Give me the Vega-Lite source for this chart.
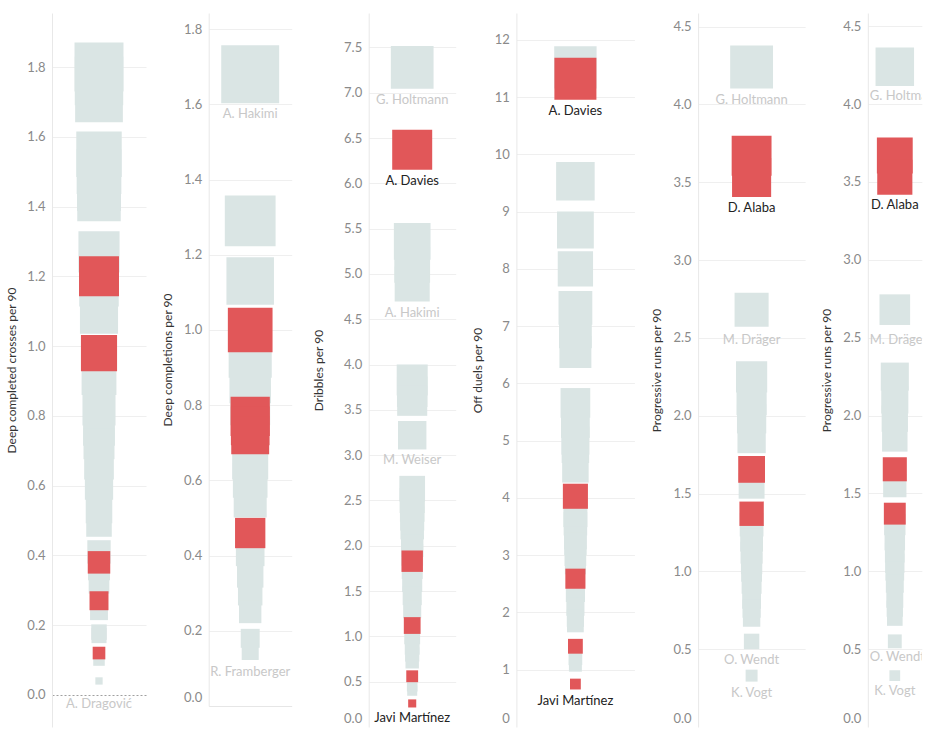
{
  "$schema": "https://vega.github.io/schema/vega-lite/v6.json",
  "padding": {"left": 5, "top": 13, "right": 5, "bottom": 5},
  "background": "white",
  "config": {
    "view": {"stroke": null},
    "font": "Lato",
    "axis": {
      "ticks": false,
      "domainColor": "#e8e8e8",
      "gridColor": "#efefef",
      "labelColor": "#8a8a8a",
      "labelFont": "Lato",
      "labelFontSize": 13,
      "labelPadding": 7,
      "titleFont": "Lato",
      "titleFontSize": 12,
      "titleFontWeight": "normal",
      "titleColor": "#333333",
      "minExtent": 24,
      "maxExtent": 24
    }
  },
  "datasets": {
    "crosses": [
      {"player": "A. Dragović", "value": 0, "team": "Other"},
      {"value": 1.80, "team": "Other"}, {"value": 1.76, "team": "Other"}, {"value": 1.71, "team": "Other"},
      {"value": 1.55, "team": "Other"}, {"value": 1.50, "team": "Other"}, {"value": 1.45, "team": "Other"},
      {"value": 1.42, "team": "Other"}, {"value": 1.27, "team": "Other"}, {"value": 1.17, "team": "Other"},
      {"value": 1.09, "team": "Other"}, {"value": 0.91, "team": "Other"}, {"value": 0.82, "team": "Other"},
      {"value": 0.76, "team": "Other"}, {"value": 0.72, "team": "Other"}, {"value": 0.66, "team": "Other"},
      {"value": 0.60, "team": "Other"}, {"value": 0.53, "team": "Other"}, {"value": 0.49, "team": "Other"},
      {"value": 0.41, "team": "Other"}, {"value": 0.36, "team": "Other"}, {"value": 0.32, "team": "Other"},
      {"value": 0.24, "team": "Other"}, {"value": 0.18, "team": "Other"}, {"value": 0.17, "team": "Other"},
      {"value": 0.10, "team": "Other"}, {"value": 0.04, "team": "Other"},
      {"value": 1.20, "team": "Bayern"}, {"value": 0.98, "team": "Bayern"}, {"value": 0.38, "team": "Bayern"},
      {"value": 0.27, "team": "Bayern"}, {"value": 0.12, "team": "Bayern"}
    ],
    "completions": [
      {"player": "A. Hakimi", "value": 1.68, "team": "Other"},
      {"value": 1.29, "team": "Other"}, {"value": 1.13, "team": "Other"}, {"value": 0.93, "team": "Other"},
      {"value": 0.86, "team": "Other"}, {"value": 0.80, "team": "Other"}, {"value": 0.65, "team": "Other"},
      {"value": 0.60, "team": "Other"}, {"value": 0.545, "team": "Other"}, {"value": 0.41, "team": "Other"},
      {"value": 0.35, "team": "Other"}, {"value": 0.30, "team": "Other"}, {"value": 0.25, "team": "Other"},
      {"value": 0.18, "team": "Other"},
      {"player": "R. Framberger", "value": 0.145, "team": "Other"},
      {"value": 1.00, "team": "Bayern"}, {"value": 0.77, "team": "Bayern"}, {"value": 0.745, "team": "Bayern"},
      {"value": 0.72, "team": "Bayern"}, {"value": 0.46, "team": "Bayern"}
    ],
    "dribbles": [
      {"player": "G. Holtmann", "value": 7.28, "team": "Other"},
      {"value": 5.36, "team": "Other"}, {"value": 5.10, "team": "Other"},
      {"player": "A. Hakimi", "value": 4.89, "team": "Other"},
      {"value": 3.83, "team": "Other"}, {"value": 3.70, "team": "Other"}, {"value": 3.60, "team": "Other"},
      {"player": "M. Weiser", "value": 3.22, "team": "Other"},
      {"value": 2.63, "team": "Other"}, {"value": 2.50, "team": "Other"}, {"value": 2.40, "team": "Other"},
      {"value": 2.30, "team": "Other"}, {"value": 2.20, "team": "Other"}, {"value": 2.00, "team": "Other"},
      {"value": 1.90, "team": "Other"}, {"value": 1.75, "team": "Other"}, {"value": 1.60, "team": "Other"},
      {"value": 1.45, "team": "Other"}, {"value": 1.30, "team": "Other"}, {"value": 1.00, "team": "Other"},
      {"value": 0.88, "team": "Other"}, {"value": 0.80, "team": "Other"}, {"value": 0.72, "team": "Other"},
      {"value": 0.45, "team": "Other"}, {"value": 0.40, "team": "Other"},
      {"player": "A. Davies", "value": 6.37, "team": "Bayern"},
      {"value": 1.83, "team": "Bayern"}, {"value": 1.12, "team": "Bayern"}, {"value": 0.56, "team": "Bayern"},
      {"player": "Javi Martínez", "value": 0.26, "team": "Bayern"}
    ],
    "duels": [
      {"value": 11.52, "team": "Other"}, {"value": 9.53, "team": "Other"}, {"value": 8.68, "team": "Other"},
      {"value": 8.0, "team": "Other"}, {"value": 7.32, "team": "Other"}, {"value": 6.9, "team": "Other"},
      {"value": 6.55, "team": "Other"}, {"value": 5.66, "team": "Other"}, {"value": 5.3, "team": "Other"},
      {"value": 5.0, "team": "Other"}, {"value": 4.85, "team": "Other"}, {"value": 4.5, "team": "Other"},
      {"value": 3.7, "team": "Other"}, {"value": 3.55, "team": "Other"}, {"value": 3.3, "team": "Other"},
      {"value": 3.2, "team": "Other"}, {"value": 3.0, "team": "Other"}, {"value": 2.85, "team": "Other"},
      {"value": 2.35, "team": "Other"}, {"value": 2.1, "team": "Other"}, {"value": 1.9, "team": "Other"},
      {"value": 1.8, "team": "Other"}, {"value": 1.2, "team": "Other"}, {"value": 1.08, "team": "Other"},
      {"player": "A. Davies", "value": 11.32, "team": "Bayern"},
      {"value": 4.03, "team": "Bayern"}, {"value": 2.59, "team": "Bayern"}, {"value": 1.41, "team": "Bayern"},
      {"player": "Javi Martínez", "value": 0.75, "team": "Bayern"}
    ],
    "runs": [
      {"player": "G. Holtmann", "value": 4.24, "team": "Other"},
      {"player": "M. Dräger", "value": 2.68, "team": "Other"},
      {"value": 2.25, "team": "Other"}, {"value": 2.1, "team": "Other"}, {"value": 1.98, "team": "Other"},
      {"value": 1.85, "team": "Other"}, {"value": 1.55, "team": "Other"}, {"value": 1.3, "team": "Other"},
      {"value": 1.2, "team": "Other"}, {"value": 1.12, "team": "Other"}, {"value": 1.05, "team": "Other"},
      {"value": 1.0, "team": "Other"}, {"value": 0.92, "team": "Other"}, {"value": 0.82, "team": "Other"},
      {"value": 0.76, "team": "Other"}, {"value": 0.7, "team": "Other"},
      {"player": "O. Wendt", "value": 0.55, "team": "Other"},
      {"player": "K. Vogt", "value": 0.33, "team": "Other"},
      {"value": 3.67, "team": "Bayern"},
      {"player": "D. Alaba", "value": 3.53, "team": "Bayern"},
      {"value": 1.655, "team": "Bayern"}, {"value": 1.37, "team": "Bayern"}
    ]
  },
  "spacing": 20.7,
  "resolve": {"scale": {"y": "independent", "size": "independent"}, "axis": {"y": "independent"}},
  "hconcat": [
    {
      "spacing": 15.7,
      "resolve": {"scale": {"y": "independent", "size": "independent"}, "axis": {"y": "independent"}},
      "hconcat": [
        {
          "width": 94, "height": 714,
          "data": {"name": "crosses"},
          "layer": [
            {
              "transform": [{"filter": "datum.team == 'Other'"}],
              "mark": {"type": "square", "opacity": 1, "color": "#dae5e4"},
              "encoding": {
                "y": {"field": "value", "type": "quantitative",
                  "scale": {"domain": [-0.092, 1.955], "nice": false, "zero": false},
                  "axis": {"title": "Deep completed crosses per 90", "values": [0, 0.2, 0.4, 0.6, 0.8, 1, 1.2, 1.4, 1.6, 1.8], "format": ".1f", "titlePadding": 10,
                    "gridDash": {"condition": {"test": "datum.value === 0", "value": [2, 2]}, "value": []},
                    "gridColor": {"condition": {"test": "datum.value === 0", "value": "#a0a0a0"}, "value": "#efefef"}}},
                "size": {"field": "value", "type": "quantitative", "scale": {"domain": [0, 2], "range": [0, 2664]}, "legend": null}
              }
            },
            {
              "transform": [{"filter": "datum.team == 'Bayern'"}],
              "mark": {"type": "square", "opacity": 1, "color": "#e15759"},
              "encoding": {
                "y": {"field": "value", "type": "quantitative"},
                "size": {"field": "value", "type": "quantitative"}
              }
            },
            {
              "transform": [{"filter": "datum.player == 'A. Dragović'"}],
              "mark": {"type": "text", "dy": 9, "color": "#c8c8c8", "fontSize": 13},
              "encoding": {"y": {"field": "value", "type": "quantitative"}, "text": {"field": "player"}}
            }
          ]
        },
        {
          "width": 83, "height": 693,
          "data": {"name": "completions"},
          "layer": [
            {
              "transform": [{"filter": "datum.team == 'Other'"}],
              "mark": {"type": "square", "opacity": 1, "color": "#dae5e4"},
              "encoding": {
                "y": {"field": "value", "type": "quantitative",
                  "scale": {"domain": [0, 1.843], "nice": false, "zero": false},
                  "axis": {"title": "Deep completions per 90", "values": [0, 0.2, 0.4, 0.6, 0.8, 1, 1.2, 1.4, 1.6, 1.8], "format": ".1f", "titlePadding": 10,
                    "labelOffset": {"condition": {"test": "datum.value === 0", "value": -9}, "value": 0},
                    "gridColor": {"condition": {"test": "datum.value === 0", "value": "#e6e6e6"}, "value": "#efefef"}}},
                "size": {"field": "value", "type": "quantitative", "scale": {"domain": [0, 2], "range": [0, 3996]}, "legend": null}
              }
            },
            {
              "transform": [{"filter": "datum.team == 'Bayern'"}],
              "mark": {"type": "square", "opacity": 1, "color": "#e15759"},
              "encoding": {
                "y": {"field": "value", "type": "quantitative"},
                "size": {"field": "value", "type": "quantitative"}
              }
            },
            {
              "transform": [{"filter": "datum.player == 'A. Hakimi'"}],
              "mark": {"type": "text", "dy": 40, "color": "#c8c8c8", "fontSize": 13},
              "encoding": {"y": {"field": "value", "type": "quantitative"}, "text": {"field": "player"}}
            },
            {
              "transform": [{"filter": "datum.player == 'R. Framberger'"}],
              "mark": {"type": "text", "dy": 21, "color": "#c8c8c8", "fontSize": 13},
              "encoding": {"y": {"field": "value", "type": "quantitative"}, "text": {"field": "player"}}
            }
          ]
        }
      ]
    },
    {
      "spacing": 15.7,
      "resolve": {"scale": {"y": "independent", "size": "independent"}, "axis": {"y": "independent"}},
      "hconcat": [
        {
          "width": 87, "height": 714,
          "data": {"name": "dribbles"},
          "layer": [
            {
              "transform": [{"filter": "datum.team == 'Other'"}],
              "mark": {"type": "square", "opacity": 1, "color": "#dae5e4"},
              "encoding": {
                "y": {"field": "value", "type": "quantitative",
                  "scale": {"domain": [0, 7.88], "nice": false, "zero": false},
                  "axis": {"title": "Dribbles per 90", "values": [0, 0.5, 1, 1.5, 2, 2.5, 3, 3.5, 4, 4.5, 5, 5.5, 6, 6.5, 7, 7.5], "format": ".1f", "titlePadding": 19,
                    "labelOffset": {"condition": {"test": "datum.value === 0", "value": -9}, "value": 0},
                    "gridOpacity": {"condition": {"test": "datum.value === 0", "value": 0}, "value": 1}}},
                "size": {"field": "value", "type": "quantitative", "scale": {"domain": [0, 8], "range": [0, 2008]}, "legend": null}
              }
            },
            {
              "transform": [{"filter": "datum.team == 'Bayern'"}],
              "mark": {"type": "square", "opacity": 1, "color": "#e15759"},
              "encoding": {
                "y": {"field": "value", "type": "quantitative"},
                "size": {"field": "value", "type": "quantitative"}
              }
            },
            {
              "transform": [{"filter": "datum.player == 'G. Holtmann'"}],
              "mark": {"type": "text", "dy": 32.5, "color": "#c8c8c8", "fontSize": 13},
              "encoding": {"y": {"field": "value", "type": "quantitative"}, "text": {"field": "player"}}
            },
            {
              "transform": [{"filter": "datum.player == 'A. Davies'"}],
              "mark": {"type": "text", "dy": 31, "color": "#222222", "fontSize": 13},
              "encoding": {"y": {"field": "value", "type": "quantitative"}, "text": {"field": "player"}}
            },
            {
              "transform": [{"filter": "datum.player == 'A. Hakimi'"}],
              "mark": {"type": "text", "dy": 29, "color": "#c8c8c8", "fontSize": 13},
              "encoding": {"y": {"field": "value", "type": "quantitative"}, "text": {"field": "player"}}
            },
            {
              "transform": [{"filter": "datum.player == 'M. Weiser'"}],
              "mark": {"type": "text", "dy": 25, "color": "#c8c8c8", "fontSize": 13},
              "encoding": {"y": {"field": "value", "type": "quantitative"}, "text": {"field": "player"}}
            },
            {
              "transform": [{"filter": "datum.player == 'Javi Martínez'"}],
              "mark": {"type": "text", "dy": 15, "color": "#222222", "fontSize": 13},
              "encoding": {"y": {"field": "value", "type": "quantitative"}, "text": {"field": "player"}}
            }
          ]
        },
        {
          "width": 118, "height": 714,
          "data": {"name": "duels"},
          "layer": [
            {
              "transform": [{"filter": "datum.team == 'Other'"}],
              "mark": {"type": "square", "opacity": 1, "color": "#dae5e4"},
              "encoding": {
                "y": {"field": "value", "type": "quantitative",
                  "scale": {"domain": [0, 12.47], "nice": false, "zero": false},
                  "axis": {"title": "Off duels per 90", "values": [0, 1, 2, 3, 4, 5, 6, 7, 8, 9, 10, 11, 12], "format": "d", "titlePadding": 8,
                    "labelOffset": {"condition": {"test": "datum.value === 0", "value": -9}, "value": 0},
                    "gridOpacity": {"condition": {"test": "datum.value === 0", "value": 0}, "value": 1}}},
                "size": {"field": "value", "type": "quantitative", "scale": {"domain": [0, 12], "range": [0, 1872]}, "legend": null}
              }
            },
            {
              "transform": [{"filter": "datum.team == 'Bayern'"}],
              "mark": {"type": "square", "opacity": 1, "color": "#e15759"},
              "encoding": {
                "y": {"field": "value", "type": "quantitative"},
                "size": {"field": "value", "type": "quantitative"}
              }
            },
            {
              "transform": [{"filter": "datum.player == 'A. Davies'"}],
              "mark": {"type": "text", "dy": 32, "color": "#222222", "fontSize": 13},
              "encoding": {"y": {"field": "value", "type": "quantitative"}, "text": {"field": "player"}}
            },
            {
              "transform": [{"filter": "datum.player == 'Javi Martínez'"}],
              "mark": {"type": "text", "dy": 17, "color": "#222222", "fontSize": 13},
              "encoding": {"y": {"field": "value", "type": "quantitative"}, "text": {"field": "player"}}
            }
          ]
        },
        {
          "width": 107, "height": 714,
          "data": {"name": "runs"},
          "layer": [
            {
              "transform": [{"filter": "datum.team == 'Other'"}],
              "mark": {"type": "square", "opacity": 1, "color": "#dae5e4"},
              "encoding": {
                "y": {"field": "value", "type": "quantitative",
                  "scale": {"domain": [0, 4.587], "nice": false, "zero": false},
                  "axis": {"title": "Progressive runs per 90", "values": [0, 0.5, 1, 1.5, 2, 2.5, 3, 3.5, 4, 4.5], "format": ".1f", "titlePadding": 11,
                    "labelOffset": {"condition": {"test": "datum.value === 0", "value": -9}, "value": 0},
                    "gridOpacity": {"condition": {"test": "datum.value === 0", "value": 0}, "value": 1}}},
                "size": {"field": "value", "type": "quantitative", "scale": {"domain": [0, 5], "range": [0, 2165]}, "legend": null}
              }
            },
            {
              "transform": [{"filter": "datum.team == 'Bayern'"}],
              "mark": {"type": "square", "opacity": 1, "color": "#e15759"},
              "encoding": {
                "y": {"field": "value", "type": "quantitative"},
                "size": {"field": "value", "type": "quantitative"}
              }
            },
            {
              "transform": [{"filter": "datum.player == 'G. Holtmann'"}],
              "mark": {"type": "text", "dy": 32.5, "color": "#c8c8c8", "fontSize": 13},
              "encoding": {"y": {"field": "value", "type": "quantitative"}, "text": {"field": "player"}}
            },
            {
              "transform": [{"filter": "datum.player == 'D. Alaba'"}],
              "mark": {"type": "text", "dy": 30.6, "color": "#222222", "fontSize": 13},
              "encoding": {"y": {"field": "value", "type": "quantitative"}, "text": {"field": "player"}}
            },
            {
              "transform": [{"filter": "datum.player == 'M. Dräger'"}],
              "mark": {"type": "text", "dy": 30.5, "color": "#c8c8c8", "fontSize": 13},
              "encoding": {"y": {"field": "value", "type": "quantitative"}, "text": {"field": "player"}}
            },
            {
              "transform": [{"filter": "datum.player == 'O. Wendt'"}],
              "mark": {"type": "text", "dy": 18.3, "color": "#c8c8c8", "fontSize": 13},
              "encoding": {"y": {"field": "value", "type": "quantitative"}, "text": {"field": "player"}}
            },
            {
              "transform": [{"filter": "datum.player == 'K. Vogt'"}],
              "mark": {"type": "text", "dy": 17, "color": "#c8c8c8", "fontSize": 13},
              "encoding": {"y": {"field": "value", "type": "quantitative"}, "text": {"field": "player"}}
            }
          ]
        },
        {
          "width": 54, "height": 714,
          "data": {"name": "runs"},
          "layer": [
            {
              "transform": [{"filter": "datum.team == 'Other'"}],
              "mark": {"type": "square", "opacity": 1, "color": "#dae5e4"},
              "encoding": {
                "y": {"field": "value", "type": "quantitative",
                  "scale": {"domain": [0, 4.585], "nice": false, "zero": false},
                  "axis": {"title": "Progressive runs per 90", "values": [0, 0.5, 1, 1.5, 2, 2.5, 3, 3.5, 4, 4.5], "format": ".1f", "titlePadding": 10,
                    "labelOffset": {"condition": {"test": "datum.value === 0", "value": -9}, "value": 0},
                    "gridOpacity": {"condition": {"test": "datum.value === 0", "value": 0}, "value": 1}}},
                "size": {"field": "value", "type": "quantitative", "scale": {"domain": [0, 5], "range": [0, 1750]}, "legend": null}
              }
            },
            {
              "transform": [{"filter": "datum.team == 'Bayern'"}],
              "mark": {"type": "square", "opacity": 1, "color": "#e15759"},
              "encoding": {
                "y": {"field": "value", "type": "quantitative"},
                "size": {"field": "value", "type": "quantitative"}
              }
            },
            {
              "transform": [{"filter": "datum.player == 'G. Holtmann'"}],
              "mark": {"type": "text", "dy": 29.3, "dx": -25, "align": "left", "clip": true, "color": "#c8c8c8", "fontSize": 13},
              "encoding": {"y": {"field": "value", "type": "quantitative"}, "text": {"field": "player"}}
            },
            {
              "transform": [{"filter": "datum.player == 'D. Alaba'"}],
              "mark": {"type": "text", "dy": 28, "color": "#222222", "fontSize": 13},
              "encoding": {"y": {"field": "value", "type": "quantitative"}, "text": {"field": "player"}}
            },
            {
              "transform": [{"filter": "datum.player == 'M. Dräger'"}],
              "mark": {"type": "text", "dy": 30.7, "dx": -25, "align": "left", "clip": true, "color": "#c8c8c8", "fontSize": 13},
              "encoding": {"y": {"field": "value", "type": "quantitative"}, "text": {"field": "player"}}
            },
            {
              "transform": [{"filter": "datum.player == 'O. Wendt'"}],
              "mark": {"type": "text", "dy": 16, "dx": -25, "align": "left", "clip": true, "color": "#c8c8c8", "fontSize": 13},
              "encoding": {"y": {"field": "value", "type": "quantitative"}, "text": {"field": "player"}}
            },
            {
              "transform": [{"filter": "datum.player == 'K. Vogt'"}],
              "mark": {"type": "text", "dy": 15.7, "color": "#c8c8c8", "fontSize": 13},
              "encoding": {"y": {"field": "value", "type": "quantitative"}, "text": {"field": "player"}}
            }
          ]
        }
      ]
    }
  ]
}
